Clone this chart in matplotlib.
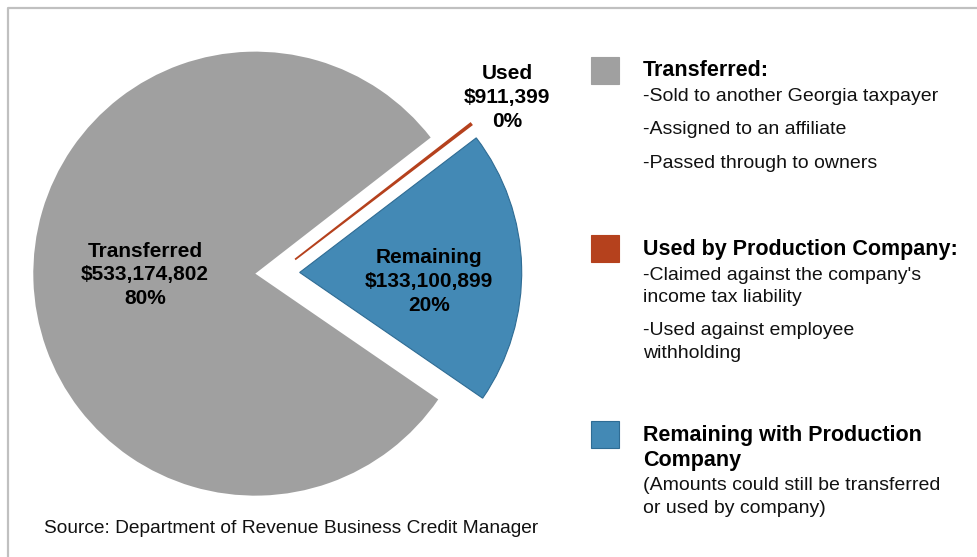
import matplotlib.pyplot as plt
from matplotlib.patches import Rectangle

# Data
categories = ["Transferred", "Used", "Remaining"]
amounts = [533174802, 911399, 133100899]
colors = ["#a0a0a0", "#b5411d", "#4389b5"]
edge_colors = ["#a0a0a0", "#b5411d", "#2f6c94"]

legend_titles = [["Transferred:"], ["Used by Production Company:"],
                 ["Remaining with Production", "Company"]]
legend_notes = [
    ["-Sold to another Georgia taxpayer", "-Assigned to an affiliate",
     "-Passed through to owners"],
    ["-Claimed against the company's", "income tax liability",
     "-Used against employee", "withholding"],
    ["(Amounts could still be transferred", "or used by company)"],
]
source = "Source: Department of Revenue Business Credit Manager"

W, H = 978, 557
plt.rcParams["font.family"] = ["Liberation Sans", "DejaVu Sans"]

fig = plt.figure(figsize=(W / 100, H / 100), dpi=100)
ax = fig.add_axes([0, 0, 1, 1])


def Y(py):
    # pixel row (top down) -> data y (bottom up)
    return H - py


# Pie
radius = 222
wedges, _ = ax.pie(
    amounts,
    center=(277.5, Y(273)),
    radius=radius,
    explode=[0.1 * radius] * 3,
    startangle=-34.5,
    counterclock=False,
    colors=colors,
    wedgeprops=dict(linewidth=0.8),
)
for w, ec in zip(wedges, edge_colors):
    w.set_edgecolor(ec)
wedges[0].set_linewidth(0)
wedges[1].set_linewidth(1.3)

# pie() resets the limits, so set the pixel frame afterwards
ax.set_xlim(0, W)
ax.set_ylim(0, H)
ax.set_aspect("equal")
ax.axis("off")

# frame (left and top only)
ax.plot([7.5, 7.5, W], [0, Y(7.5), Y(7.5)], color="#c0c0c0", lw=1.6,
        solid_capstyle="butt")

total = sum(amounts)
label_pos = [(145, [257, 280, 304]), (507, [79, 103, 127]),
             (429, [263, 287, 311])]
for name, amt, (lx, ys) in zip(categories, amounts, label_pos):
    lines = [name, f"${amt:,}", f"{amt / total:.0%}"]
    for s, yy in zip(lines, ys):
        ax.text(lx, Y(yy), s, ha="center", va="baseline", fontsize=15,
                fontweight="bold", color="black")

# Legend
sq_top = [57, 235, 421]
title_base = [[76], [255], [441, 466]]
note_base = [[101, 134, 168], [280, 302, 335, 358], [490, 513]]
for i in range(3):
    ax.add_patch(Rectangle((591, Y(sq_top[i] + 27)), 28, 27,
                           facecolor=colors[i], edgecolor=edge_colors[i],
                           lw=0.8))
    for s, yb in zip(legend_titles[i], title_base[i]):
        ax.text(643, Y(yb), s, ha="left", va="baseline", fontsize=15.5,
                fontweight="bold")
    for s, yb in zip(legend_notes[i], note_base[i]):
        ax.text(643, Y(yb), s, ha="left", va="baseline", fontsize=14,
                color="#111111")

ax.text(44, Y(533), source, ha="left", va="baseline", fontsize=13.8,
        color="#111111")

fig.savefig("out.png", dpi=100)
